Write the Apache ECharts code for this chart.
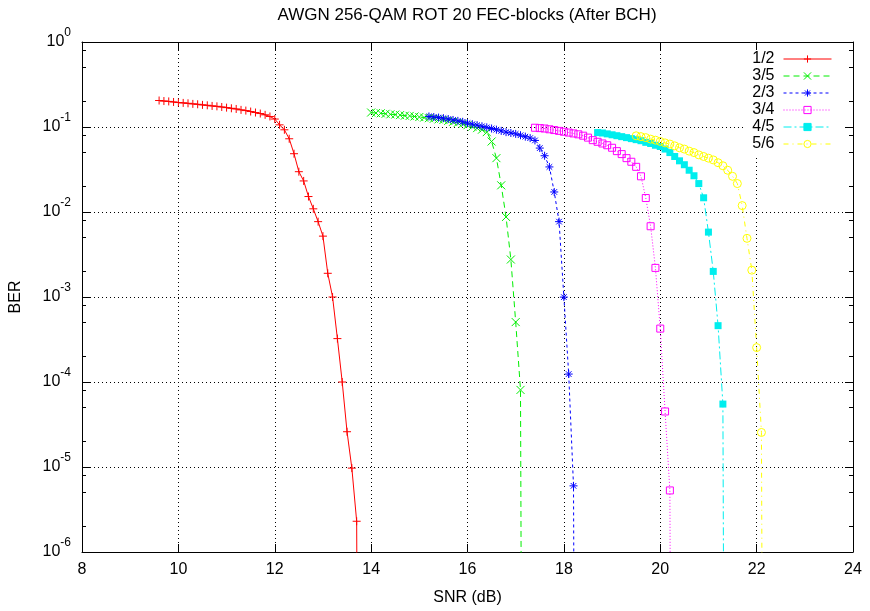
<!DOCTYPE html>
<html><head><meta charset="utf-8">
<script src="https://cdn.jsdelivr.net/npm/echarts@6/dist/echarts.min.js"></script>
<style>html,body{margin:0;padding:0;background:#fff}#c{width:870px;height:611px}</style>
</head><body><div id="c"></div>
<script>
const titleText = 'AWGN 256-QAM ROT 20 FEC-blocks (After BCH)';
const xAxisName = 'SNR (dB)';
const yAxisName = 'BER';
const seriesNames = ['1/2', '3/5', '2/3', '3/4', '4/5', '5/6'];

const snr_1_2 = [9.6, 9.7, 9.8, 9.9, 10.0, 10.1, 10.2, 10.3, 10.4, 10.5, 10.6, 10.7, 10.8, 10.9, 11.0, 11.1, 11.2, 11.3, 11.4, 11.5, 11.6, 11.7, 11.8, 11.9, 12.0, 12.1, 12.2, 12.3, 12.4, 12.5, 12.6, 12.7, 12.8, 12.9, 13.0, 13.1, 13.2, 13.3, 13.4, 13.5, 13.6, 13.7, 13.8];
const ber_1_2 = [0.205, 0.202, 0.200, 0.197, 0.194, 0.192, 0.190, 0.187, 0.185, 0.182, 0.180, 0.177, 0.175, 0.172, 0.169, 0.166, 0.163, 0.159, 0.156, 0.152, 0.148, 0.144, 0.139, 0.133, 0.124, 0.106, 0.0927, 0.0727, 0.0485, 0.0298, 0.0232, 0.0152, 0.0109, 0.0077, 0.0052, 0.0019, 0.00100, 3.24e-4, 1.0e-4, 2.6e-5, 9.7e-6, 2.3e-6, 1e-20];

const snr_3_5 = [14.0, 14.1, 14.2, 14.3, 14.4, 14.5, 14.6, 14.7, 14.8, 14.9, 15.0, 15.1, 15.2, 15.3, 15.4, 15.5, 15.6, 15.7, 15.8, 15.9, 16.0, 16.1, 16.2, 16.3, 16.4, 16.5, 16.6, 16.7, 16.8, 16.9, 17.0, 17.1, 17.2];
const ber_3_5 = [0.148, 0.146, 0.145, 0.143, 0.141, 0.140, 0.138, 0.136, 0.135, 0.133, 0.131, 0.129, 0.127, 0.125, 0.123, 0.121, 0.118, 0.115, 0.112, 0.109, 0.105, 0.101, 0.097, 0.093, 0.087, 0.0675, 0.043, 0.0206, 0.00875, 0.00276, 5.07e-4, 8.07e-5, 1e-20];

const snr_2_3 = [15.2, 15.3, 15.4, 15.5, 15.6, 15.7, 15.8, 15.9, 16.0, 16.1, 16.2, 16.3, 16.4, 16.5, 16.6, 16.7, 16.8, 16.9, 17.0, 17.1, 17.2, 17.3, 17.4, 17.5, 17.6, 17.7, 17.8, 17.9, 18.0, 18.1, 18.2, 18.3];
const ber_2_3 = [0.133, 0.131, 0.129, 0.127, 0.124, 0.121, 0.118, 0.115, 0.111, 0.108, 0.105, 0.102, 0.099, 0.096, 0.093, 0.090, 0.087, 0.085, 0.083, 0.080, 0.077, 0.074, 0.0695, 0.0565, 0.0459, 0.0339, 0.0172, 0.0077, 9.97e-4, 1.24e-4, 6.0e-6, 1e-20];

const snr_3_4 = [17.4, 17.5, 17.6, 17.7, 17.8, 17.9, 18.0, 18.1, 18.2, 18.3, 18.4, 18.5, 18.6, 18.7, 18.8, 18.9, 19.0, 19.1, 19.2, 19.3, 19.4, 19.5, 19.6, 19.7, 19.8, 19.9, 20.0, 20.1, 20.2, 20.3];
const ber_3_4 = [0.098, 0.097, 0.096, 0.094, 0.092, 0.090, 0.088, 0.086, 0.084, 0.082, 0.079, 0.075, 0.070, 0.067, 0.064, 0.061, 0.057, 0.052, 0.048, 0.043, 0.039, 0.034, 0.0263, 0.0146, 0.0068, 0.0022, 4.25e-4, 4.5e-5, 5.3e-6, 1e-20];

const snr_4_5 = [18.7, 18.8, 18.9, 19.0, 19.1, 19.2, 19.3, 19.4, 19.5, 19.6, 19.7, 19.8, 19.9, 20.0, 20.1, 20.2, 20.3, 20.4, 20.5, 20.6, 20.7, 20.8, 20.9, 21.0, 21.1, 21.2, 21.3, 21.4];
const ber_4_5 = [0.086, 0.085, 0.083, 0.081, 0.079, 0.077, 0.075, 0.073, 0.071, 0.069, 0.066, 0.064, 0.061, 0.059, 0.055, 0.050, 0.045, 0.040, 0.036, 0.031, 0.0267, 0.0216, 0.0147, 0.0058, 0.0020, 4.6e-4, 5.5e-5, 1e-20];

const snr_5_6 = [19.5, 19.6, 19.7, 19.8, 19.9, 20.0, 20.1, 20.2, 20.3, 20.4, 20.5, 20.6, 20.7, 20.8, 20.9, 21.0, 21.1, 21.2, 21.3, 21.4, 21.5, 21.6, 21.7, 21.8, 21.9, 22.0, 22.1, 22.2];
const ber_5_6 = [0.0788, 0.077, 0.075, 0.072, 0.070, 0.0676, 0.065, 0.063, 0.060, 0.057, 0.055, 0.052, 0.050, 0.047, 0.045, 0.043, 0.041, 0.038, 0.035, 0.031, 0.0263, 0.0216, 0.0119, 0.0049, 0.00207, 2.54e-4, 2.55e-5, 1e-20];

const xTickValues = [8, 10, 12, 14, 16, 18, 20, 22, 24];
const yMinorTicks = [0.8, 0.5, 0.2, 0.08, 0.05, 0.02, 0.008, 0.005, 0.002, 8e-4, 5e-4, 2e-4, 8e-5, 5e-5, 2e-5, 8e-6, 5e-6, 2e-6];

const FONT = "'Liberation Sans', Arial, Helvetica, sans-serif";
const snrs = [snr_1_2, snr_3_5, snr_2_3, snr_3_4, snr_4_5, snr_5_6];
const bers = [ber_1_2, ber_3_5, ber_2_3, ber_3_4, ber_4_5, ber_5_6];
const colors = ['#ff0000', '#00ee00', '#0000ff', '#ff00ff', '#00eeee', '#ffff00'];
const dashes = ['solid', [6, 4], [3, 3], [1, 2], [8, 3, 2, 3], [5, 4, 1, 4]];
const symbols = [
  'path://M0,5L10,5M5,0L5,10',
  'path://M0,0L10,10M0,10L10,0',
  'path://M0,5L10,5M5,0L5,10M1.5,1.5L8.5,8.5M1.5,8.5L8.5,1.5',
  'rect', 'rect', 'circle'
];
const fills = ['rgba(0,0,0,0)', 'rgba(0,0,0,0)', 'rgba(0,0,0,0)', 'rgba(0,0,0,0)', '#00eeee', 'rgba(0,0,0,0)'];
const symSizes = [8, 8, 8, 7, 7, 8];

const chart = echarts.init(document.getElementById('c'), null, {renderer: 'canvas'});

const series = seriesNames.map((name, k) => ({
  name: name,
  type: 'line',
  xAxisIndex: 0,
  yAxisIndex: 0,
  data: snrs[k].map((x, i) => [x, bers[k][i]]),
  symbol: symbols[k],
  symbolSize: symSizes[k],
  showSymbol: true,
  showAllSymbol: true,
  clip: true,
  lineStyle: {color: colors[k], width: 1, type: dashes[k]},
  itemStyle: {color: fills[k], borderColor: colors[k], borderWidth: k === 4 ? 0 : 1},
  emphasis: {disabled: true},
  z: 2 + k
}));

const axisLineStyle = {show: true, onZero: false, lineStyle: {color: '#000', width: 1}};
const gridLine = {show: true, lineStyle: {color: '#000', width: 1, type: [1, 3]}};
const expLabel = v => {
  const e = Math.round(Math.log10(v));
  return '{b|10}{s|' + (e === 0 ? '0' : '-' + (-e)) + '}';
};
const yBase = {type: 'log', logBase: 10, min: 1e-6, max: 1, interval: 1, splitNumber: 6};

chart.setOption({
  animation: false,
  backgroundColor: '#fff',
  title: {
    text: titleText, left: 467, top: 7, textAlign: 'center', padding: 0,
    textStyle: {fontFamily: FONT, fontSize: 17, fontWeight: 'normal', color: '#000'}
  },
  grid: {left: 82, right: 17, top: 42, bottom: 58, containLabel: false, show: false},
  legend: {
    data: seriesNames, orient: 'vertical', align: 'right', right: 27, top: 50,
    itemWidth: 48, itemHeight: 9, itemGap: 1, padding: [1, 11, 3, 9],
    backgroundColor: '#fff', selectedMode: false,
    lineStyle: {width: 1},
    itemStyle: {borderWidth: 1},
    textStyle: {fontFamily: FONT, fontSize: 16, color: '#000', lineHeight: 16, padding: [0, 4, 0, 0]}
  },
  xAxis: [
    {
      type: 'value', min: 8, max: 24, interval: 2, position: 'bottom',
      name: xAxisName, nameLocation: 'middle', nameGap: 38,
      nameTextStyle: {fontFamily: FONT, fontSize: 16, color: '#000'},
      axisLine: axisLineStyle,
      axisTick: {show: true, inside: true, length: 8, lineStyle: {color: '#000'}},
      axisLabel: {margin: 10, fontFamily: FONT, fontSize: 16, color: '#000', customValues: xTickValues},
      splitLine: gridLine
    },
    {
      type: 'value', min: 8, max: 24, interval: 2, position: 'top',
      axisLine: axisLineStyle,
      axisTick: {show: true, inside: true, length: 8, lineStyle: {color: '#000'}},
      axisLabel: {show: false}, splitLine: {show: false}
    }
  ],
  yAxis: [
    Object.assign({}, yBase, {
      position: 'left',
      name: yAxisName, nameLocation: 'middle', nameGap: 58, nameRotate: 90,
      nameTextStyle: {fontFamily: FONT, fontSize: 16, color: '#000'},
      axisLine: axisLineStyle,
      axisTick: {show: true, inside: true, length: 8, lineStyle: {color: '#000'}},
      axisLabel: {
        margin: 11, formatter: expLabel,
        rich: {
          b: {fontFamily: FONT, fontSize: 16, color: '#000'},
          s: {fontFamily: FONT, fontSize: 12, color: '#000', padding: [0, 0, 18, 0]}
        }
      },
      splitLine: gridLine
    }),
    Object.assign({}, yBase, {
      position: 'left',
      axisLine: {show: false, onZero: false},
      axisTick: {show: true, inside: true, length: 4, customValues: yMinorTicks, lineStyle: {color: '#000'}},
      axisLabel: {show: false}, splitLine: {show: false}
    }),
    Object.assign({}, yBase, {
      position: 'right',
      axisLine: axisLineStyle,
      axisTick: {show: true, inside: true, length: 8, lineStyle: {color: '#000'}},
      axisLabel: {show: false}, splitLine: {show: false}
    }),
    Object.assign({}, yBase, {
      position: 'right',
      axisLine: {show: false, onZero: false},
      axisTick: {show: true, inside: true, length: 4, customValues: yMinorTicks, lineStyle: {color: '#000'}},
      axisLabel: {show: false}, splitLine: {show: false}
    })
  ],
  series: series
});
</script>
</body></html>
